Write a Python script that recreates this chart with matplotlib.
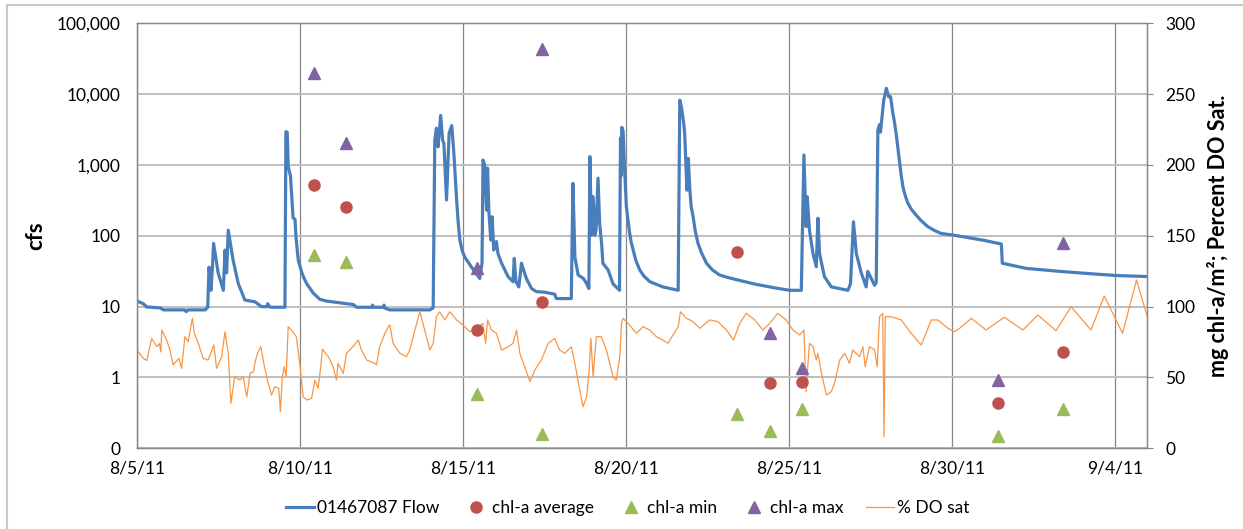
import numpy as np
import pandas as pd
import matplotlib
matplotlib.use("Agg")
import matplotlib.pyplot as plt
import matplotlib.ticker as mticker
from matplotlib.patches import Rectangle

plt.rcParams["font.family"] = ["Lato", "DejaVu Sans"]

start = pd.Timestamp("2011-08-05")

# gauge 01467087 discharge, days after 8/5/11 00:00
flow_day = [0.00, 0.18, 0.29, 0.70, 0.80, 1.45, 1.50, 1.55, 2.08, 2.16, 2.20, 2.26, 2.30, 2.34,
            2.48, 2.64, 2.69, 2.74, 2.79, 2.94, 3.10, 3.30, 3.61, 3.81, 3.98, 4.00, 4.05, 4.10,
            4.53, 4.56, 4.60, 4.63, 4.70, 4.78, 4.84, 4.87, 4.94, 5.05, 5.12, 5.20, 5.30, 5.40,
            5.50, 5.60, 5.80, 6.10, 6.63, 6.73, 7.20, 7.22, 7.25, 7.55, 7.57, 7.60, 7.75, 8.98,
            9.08, 9.13, 9.18, 9.23, 9.31, 9.37, 9.41, 9.49, 9.57, 9.65, 9.71, 9.80, 9.85, 9.90,
            9.97, 10.05, 10.26, 10.51, 10.58, 10.61, 10.66, 10.72, 10.75, 10.79, 10.85, 10.89,
            10.94, 11.02, 11.07, 11.18, 11.38, 11.53, 11.57, 11.62, 11.71, 11.79, 11.94, 12.10,
            12.25, 12.50, 12.81, 12.86, 13.32, 13.37, 13.43, 13.53, 13.69, 13.77, 13.86, 13.89,
            13.94, 13.99, 14.04, 14.08, 14.14, 14.19, 14.25, 14.29, 14.45, 14.60, 14.80, 14.83,
            14.85, 14.87, 14.91, 14.95, 15.01, 15.11, 15.16, 15.22, 15.30, 15.42, 15.55, 15.73,
            16.13, 16.60, 16.65, 16.70, 16.77, 16.80, 16.87, 16.91, 16.96, 17.00, 17.06, 17.12,
            17.21, 17.32, 17.47, 17.65, 17.87, 18.10, 18.39, 19.00, 19.60, 20.03, 20.38, 20.46,
            20.53, 20.56, 20.63, 20.74, 20.84, 20.89, 20.94, 21.09, 21.30, 21.81, 21.89, 21.98,
            22.07, 22.22, 22.37, 22.42, 22.63, 22.68, 22.73, 22.78, 22.81, 22.91, 22.99, 23.06,
            23.12, 23.19, 23.24, 23.29, 23.34, 23.39, 23.44, 23.50, 23.57, 23.65, 23.75, 23.86,
            24.05, 24.26, 24.45, 24.67, 25.00, 25.40, 26.00, 26.52, 26.55, 27.28, 28.30, 29.33,
            30.04, 31.00]
flow_cfs = [12, 11, 9.9, 9.6, 9.0, 9.0, 8.5, 9.0, 9.0, 9.8, 36, 17, 33, 78,
            30, 17, 63, 30, 120, 45, 21, 12.4, 11.7, 10, 10, 11, 10, 9.8,
            9.8, 2950, 2900, 950, 700, 180, 170, 95, 45, 30, 25, 21, 18, 15.5,
            14, 12.7, 12, 11.5, 10.7, 9.8, 9.8, 10.5, 9.8, 9.8, 10.5, 9.5, 9.0, 9.0,
            9.6, 2250, 3300, 1800, 5000, 2250, 2000, 320, 2800, 3600, 1600, 320, 150, 87,
            62, 50, 36, 25, 41, 1175, 1000, 230, 900, 220, 87, 186,
            63, 83, 56, 41, 26.5, 22.5, 48, 22.5, 19, 41, 25, 18,
            16.3, 16, 15, 13, 13, 550, 50, 28, 25, 22, 18, 1310,
            102, 357, 102, 120, 650, 150, 78, 41, 33, 21, 17, 2400,
            700, 3400, 3000, 1000, 258, 110, 80, 63, 45, 33, 27, 22.5,
            19, 17, 8200, 6600, 3900, 2800, 440, 1240, 440, 258, 186, 120,
            78, 57, 41, 33, 28, 26, 24, 20.6, 18.3, 17, 17, 1380,
            135, 357, 120, 56, 36.6, 177, 56, 26.5, 19, 17, 21, 158,
            56, 30, 19, 31.5, 20, 22, 3100, 3700, 2900, 8200, 12100, 9200,
            9200, 5400, 4000, 2800, 1800, 1175, 750, 490, 370, 290, 240, 207,
            165, 135, 120, 108, 103, 96, 86, 76.5, 41, 34.7, 31.5, 29,
            27.5, 26.6]

# percent dissolved oxygen saturation
do_day = [0.00, 0.10, 0.18, 0.29, 0.44, 0.60, 0.68, 0.72, 0.75, 0.90, 1.00, 1.10, 1.27, 1.36,
          1.46, 1.56, 1.69, 1.75, 1.87, 2.02, 2.17, 2.35, 2.43, 2.59, 2.69, 2.79, 2.87, 2.99,
          3.15, 3.25, 3.36, 3.46, 3.56, 3.63, 3.69, 3.79, 3.90, 4.02, 4.12, 4.22, 4.34, 4.39,
          4.45, 4.51, 4.57, 4.63, 4.73, 4.88, 4.99, 5.09, 5.20, 5.35, 5.45, 5.55, 5.63, 5.68,
          5.86, 6.01, 6.11, 6.16, 6.32, 6.42, 6.57, 6.78, 6.88, 7.04, 7.29, 7.34, 7.44, 7.60,
          7.70, 7.75, 7.85, 8.06, 8.26, 8.36, 8.52, 8.67, 8.82, 8.98, 9.08, 9.18, 9.28, 9.44,
          9.59, 9.80, 10.00, 10.20, 10.36, 10.60, 10.69, 10.75, 10.87, 11.02, 11.18, 11.38,
          11.53, 11.64, 11.74, 11.89, 12.05, 12.20, 12.40, 12.61, 12.81, 12.96, 13.12, 13.32,
          13.43, 13.58, 13.68, 13.79, 13.86, 13.92, 13.99, 14.09, 14.24, 14.40, 14.50, 14.60,
          14.70, 14.81, 14.86, 14.91, 15.06, 15.32, 15.52, 15.73, 15.93, 16.13, 16.29, 16.44,
          16.60, 16.67, 16.85, 17.06, 17.26, 17.57, 17.82, 18.08, 18.30, 18.49, 18.69, 18.95,
          19.20, 19.41, 19.66, 19.92, 20.12, 20.33, 20.46, 20.50, 20.53, 20.57, 20.63, 20.74,
          20.84, 20.89, 21.00, 21.15, 21.30, 21.40, 21.56, 21.71, 21.86, 21.96, 22.17, 22.27,
          22.34, 22.47, 22.63, 22.71, 22.78, 22.88, 22.92, 22.96, 23.14, 23.45, 23.75, 24.06,
          24.37, 24.57, 24.88, 25.08, 25.24, 25.60, 26.05, 26.61, 27.18, 27.64, 28.20, 28.66,
          29.27, 29.68, 30.24, 30.67, 31.00]
do_pct = [69, 66, 63.5, 62, 77.6, 71.7, 74, 68, 83.5, 76.4, 69.4, 58.8, 63.5, 56.5,
          78.8, 75.3, 91.8, 81.2, 74.1, 63.5, 62.3, 72.9, 56.5, 64.7, 82.3, 67.1, 31.8, 50.5,
          48.2, 50.5, 36.4, 52.9, 54.1, 62.3, 67.1, 71.7, 57.6, 45.9, 37.6, 43.5, 42.3, 25.8,
          50.5, 57.6, 50.5, 85.8, 83.5, 78.8, 58.8, 36.4, 34.1, 35.3, 48.2, 42.3, 57.6, 69.9,
          64.7, 57.6, 48.2, 60.0, 52.9, 67.1, 70.6, 76.4, 69.4, 62.3, 60.0, 58.8, 71.7, 81.2,
          85.8, 87.0, 74.1, 67.1, 64.7, 69.4, 83.5, 96.4, 83.5, 69.4, 74.1, 92.9, 96.4, 90.6,
          96.4, 90.6, 87.0, 82.3, 83.5, 88.2, 74.1, 90.6, 83.5, 81.2, 69.4, 71.7,
          74.1, 83.5, 67.1, 57.6, 47.0, 55.3, 62.3, 74.1, 77.6, 69.4, 67.1, 71.7,
          60.0, 41.2, 29.4, 36.4, 52.9, 77.6, 50.5, 78.8, 78.8, 69.4, 60.0, 50.5,
          48.2, 64.7, 88.2, 91.8, 88.2, 81.2, 85.8, 83.5, 78.8, 76.4, 74.1, 80.0,
          85.8, 96.4, 91.8, 89.4, 84.7, 90.6, 89.4, 83.5, 76.4, 88.2, 95.3, 90.6,
          83.5, 88.2, 95.3, 90.6, 83.5, 80.0, 83.5, 57.6, 40.0, 55.3, 74.1, 71.7,
          62.3, 67.1, 52.9, 37.6, 40.0, 45.9, 62.3, 67.1, 60.0, 69.4, 64.7, 71.7,
          57.6, 71.7, 69.4, 57.6, 92.9, 95.3, 8.2, 92.9, 92.9, 90.6, 81.2, 72.9,
          90.6, 90.6, 84.7, 82.3, 84.7, 91.8, 83.5, 92.5, 83.5, 94.1, 83.0, 100.0,
          83.5, 107.5, 81.2, 118.8, 92.9]

# periphyton chlorophyll-a samples (mg/m2)
chl_dates = ["2011-08-10 10:00", "2011-08-11 10:00", "2011-08-15 10:00", "2011-08-17 10:00",
             "2011-08-23 10:00", "2011-08-24 10:00", "2011-08-25 10:00", "2011-08-31 10:00",
             "2011-09-02 10:00"]
chl_avg = [185.6, 170.3, 83.3, 103.1, 138.8, 46.1, 46.6, 32.2, 68.2]
chl_min = [136.4, 131.3, 38.1, 9.9, 24.2, 12.2, 27.5, 8.9, 27.5]
chl_max = [265.1, 215.7, 127.1, 281.6, np.nan, 81.2, 56.5, 48.2, 144.7]

flow_t = start + pd.to_timedelta(flow_day, unit="D")
do_t = start + pd.to_timedelta(do_day, unit="D")
chl_t = pd.to_datetime(chl_dates)

axis_gray = "#878787"
fs = 12.5

fig = plt.figure(figsize=(12.43, 5.29), dpi=100)
ax = fig.add_axes([0.1105, 0.1525, 0.8125, 0.8035])
ax2 = ax.twinx()

ln_flow, = ax.plot(flow_t, flow_cfs, color="#4a7ebb", lw=2.3, label="01467087 Flow")
ax.set_yscale("log")
ax.set_ylim(0.1, 100000)
ax.yaxis.set_major_locator(mticker.LogLocator(base=10, numticks=10))
ax.yaxis.set_minor_locator(mticker.NullLocator())
ax.yaxis.set_major_formatter(mticker.FuncFormatter(lambda v, p: f"{v:,.0f}"))

ticks = [start + pd.Timedelta(days=5 * i) for i in range(7)]
ax.set_xticks(ticks)
ax.xaxis.set_major_formatter(mticker.FuncFormatter(
    lambda v, p: "{d.month}/{d.day}/{d:%y}".format(d=matplotlib.dates.num2date(v))))
ax.set_xlim(start, start + pd.Timedelta(days=31))

ax.grid(axis="y", color="#c0c0c0", lw=1.5)
ax.grid(axis="x", color=axis_gray, lw=0.9)
ax.set_axisbelow(True)

ln_do, = ax2.plot(do_t, do_pct, color="#f79646", lw=0.9, label="% DO sat")
sc_avg, = ax2.plot(chl_t, chl_avg, "o", color="#c0504d", ms=8, label="chl-a average")
sc_min, = ax2.plot(chl_t, chl_min, "^", color="#9bbb59", ms=8.5, label="chl-a min")
sc_max, = ax2.plot(chl_t, chl_max, "^", color="#8064a2", ms=8.5, label="chl-a max")
ax2.set_ylim(0, 300)
ax2.set_yticks(range(0, 301, 50))

for a in (ax, ax2):
    for s in a.spines.values():
        s.set_color(axis_gray)
        s.set_linewidth(0.9)
ax.tick_params(axis="y", length=0, pad=12, labelsize=fs)
ax.tick_params(axis="x", length=0, pad=9, labelsize=fs)
ax2.tick_params(axis="y", length=4, color=axis_gray, pad=9, labelsize=fs)

ax.set_ylabel("cfs", fontsize=16, fontweight="bold")
ax.yaxis.set_label_coords(-0.09, 0.5)
ax2.set_ylabel("mg chl-a/m²; Percent DO Sat.", fontsize=15.5, fontweight="bold")
ax2.yaxis.set_label_coords(1.059, 0.5)

fig.legend(handles=[ln_flow, sc_avg, sc_min, sc_max, ln_do], loc="center", ncol=5,
           bbox_to_anchor=(0.505, 0.04), frameon=False, fontsize=fs,
           handlelength=1.6, columnspacing=1.3, handletextpad=0.15)

# chart area border
fig.patches.append(Rectangle((6.5 / 1243, -0.05), 1.1, 1.05 - 5 / 529,
                             transform=fig.transFigure, fill=False,
                             edgecolor="#c8c8c8", lw=1.5))

fig.savefig("out.png", dpi=100)
